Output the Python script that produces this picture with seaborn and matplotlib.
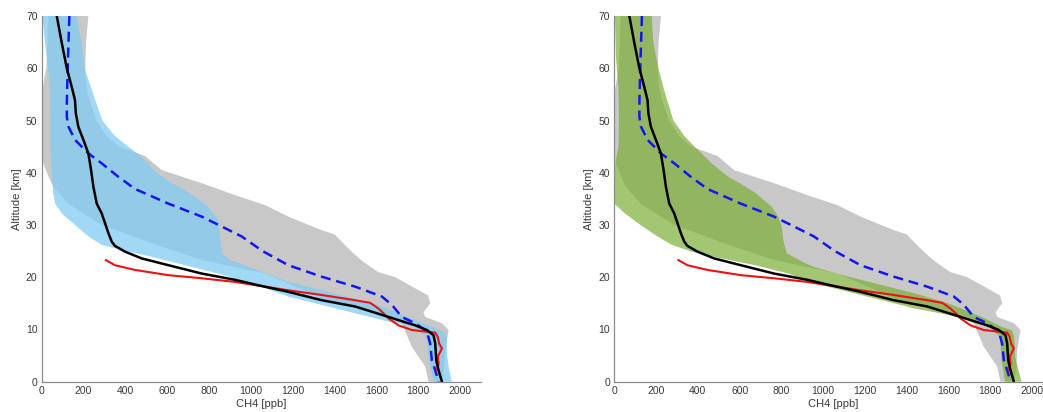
import numpy as np
import pandas as pd
import matplotlib
matplotlib.use("Agg")
import matplotlib.pyplot as plt
import seaborn as sns

sns.set_theme(style="white")
plt.rcParams["font.family"] = ["Liberation Sans", "DejaVu Sans"]

# ---------------- data (CH4 in ppb, altitude in km) ----------------
# grey envelope (reference dataset range) - same in both panels
grey_left_ch4 = [30, 27, 22, 10, 0, 0, 5, 25, 55, 128, 287, 526, 765, 1068, 1340, 1658, 1721, 1769, 1833, 1849]
grey_left_alt = [70, 65, 60, 57.5, 55, 45, 42, 40, 37.3, 34, 30, 26.5, 23.3, 20.7, 16.0, 12.4, 11.2, 6.7, 2.9, 0]
grey_right_ch4 = [223, 212, 208, 212, 228, 262, 310, 370, 440, 494, 574, 765, 925, 1068, 1179, 1339, 1400,
                  1458, 1506, 1536, 1608, 1690, 1780, 1847, 1857, 1825, 1833, 1913, 1945, 1937, 1929, 1925, 1915]
grey_right_alt = [70, 65, 60, 57, 54, 50, 47, 45, 44, 43.2, 40.5, 38, 35.7, 33.8, 31.6, 29.0, 28.2,
                  25.8, 24.0, 23.0, 21.0, 20.0, 18.0, 16.5, 15.0, 13.3, 12.4, 11.2, 9.9, 8.0, 6.1, 3.0, 0]

# blue band (left panel)
blue_left_ch4 = [3, 16, 30, 40, 42, 42, 48, 52, 55, 64, 96, 160, 223, 287, 383, 526, 685, 845, 1004, 1179,
                 1339, 1498, 1658, 1785, 1841, 1849, 1873]
blue_left_alt = [70, 65, 60, 56, 50, 45, 40, 38, 36, 34.1, 32.2, 30, 27.8, 26.2, 25.2, 23.9, 22.3, 20.7, 18.8,
                 16.3, 14.7, 13.1, 11.5, 10.5, 8.6, 4.8, 0]
blue_right_ch4 = [167, 190, 205, 230, 255, 290, 350, 414, 478, 550, 622, 685, 797, 845, 853, 861, 900, 1000,
                  1179, 1339, 1498, 1626, 1705, 1785, 1865, 1921, 1937, 1937, 1945, 1960]
blue_right_alt = [70, 65, 60, 57, 54, 50, 47, 45, 43, 40, 38, 36.7, 33.5, 30.9, 27.8, 24.6, 23.3, 21.8,
                  19.1, 17.5, 15.9, 14.4, 13.1, 11.8, 10.5, 9.6, 8.6, 5.4, 2.9, 0]

# green band (right panel)
green_left_ch4 = [3, 8, 20, 22, 20, 5, 0, 0, 51, 115, 195, 275, 370, 514, 674, 833, 961, 1121, 1280, 1440,
                  1599, 1727, 1800, 1847, 1855, 1871]
green_left_alt = [70, 62, 56, 50, 45, 42, 40, 34.1, 32.2, 30.3, 28.1, 26.2, 24.9, 23.6, 22.3, 20.7, 18.8,
                  17.2, 15.6, 14.0, 12.8, 11.5, 10.3, 8.5, 4.0, 0]
green_right_ch4 = [179, 187, 211, 243, 283, 338, 402, 466, 546, 600, 674, 753, 785, 801, 809, 825, 913, 961,
                   1121, 1280, 1440, 1599, 1679, 1759, 1855, 1903, 1915, 1919, 1935, 1950]
green_right_alt = [70, 64.8, 60, 55.2, 50, 46.9, 44.3, 41.8, 39.2, 38, 36.2, 33.5, 31.6, 29.7, 27.1, 24.6,
                   22.7, 21.9, 20.1, 18.5, 16.9, 15.0, 13.7, 12.4, 10.5, 9.9, 8.6, 4.8, 2.2, 0]

# blue dashed profile
dash_ch4 = [132, 128, 123, 120, 120, 128, 159, 223, 287, 367, 446, 605, 765, 861, 956, 1056, 1179, 1339,
            1498, 1626, 1674, 1721, 1785, 1841, 1857, 1865, 1881, 1897]
dash_alt = [70, 64.8, 58.4, 53.3, 50.7, 48.8, 46.3, 43.7, 41.8, 39.2, 36.9, 34.1, 31.6, 29.7, 27.8, 25.0,
            22.3, 20.1, 18.2, 16.3, 14.7, 12.4, 11.2, 9.6, 7.3, 4.1, 2.2, 0]

# black profile
black_ch4 = [72, 96, 120, 143, 159, 163, 175, 199, 223, 236, 247, 263, 287, 303, 319, 335, 350, 398, 478,
             606, 765, 925, 1020, 1179, 1339, 1498, 1626, 1705, 1785, 1841, 1873, 1881, 1886, 1897, 1913]
black_alt = [70, 64.8, 60, 56.5, 53.9, 51.4, 48.8, 46.3, 43.7, 40.5, 37.3, 34.1, 32.2, 30.3, 28.4, 26.8,
             26.0, 24.9, 23.6, 22.3, 20.7, 19.5, 18.6, 17.2, 15.6, 14.4, 12.8, 11.8, 10.8, 9.9, 8.9, 7.3,
             4.1, 2.2, 0]

# red profile
red_ch4 = [306, 350, 446, 605, 765, 925, 1020, 1179, 1339, 1498, 1570, 1610, 1642, 1658, 1705, 1769, 1833,
           1881, 1893, 1900, 1913, 1905, 1893, 1897, 1890]
red_alt = [23.3, 22.3, 21.4, 20.4, 19.8, 19.1, 18.5, 17.5, 16.6, 15.6, 15.1, 14.0, 12.8, 12.1, 10.8, 9.9,
           9.6, 9.4, 8.6, 7.3, 6.4, 5.7, 4.8, 3.5, 2.2]

x_ticks = list(range(0, 2001, 200))
y_ticks = list(range(0, 71, 10))

# ---------------- figure ----------------
fig = plt.figure(figsize=(10.43, 4.12), dpi=100)
ax1 = fig.add_axes([0.040, 0.0735, 0.4212, 0.8876])
ax2 = fig.add_axes([0.589, 0.0735, 0.4205, 0.8876])

axis_col = "#8c8c8c"
text_col = "#3a3a3a"


def band(ax, lx, ly, rx, ry, color, alpha, z):
    xs = list(lx) + list(rx)[::-1]
    ys = list(ly) + list(ry)[::-1]
    ax.fill(xs, ys, color=color, alpha=alpha, lw=0, zorder=z)


def panel(ax, bl_x, bl_y, br_x, br_y, bcol, balpha):
    band(ax, grey_left_ch4, grey_left_alt, grey_right_ch4, grey_right_alt, "#c8c8c8", 1.0, 1)
    band(ax, bl_x, bl_y, br_x, br_y, bcol, balpha, 2)
    sns.lineplot(x=dash_ch4, y=dash_alt, sort=False, estimator=None, color="#1515f0",
                 linewidth=1.8, linestyle=(0, (4, 2.3)), ax=ax, zorder=3)
    sns.lineplot(x=red_ch4, y=red_alt, sort=False, estimator=None, color="#ee1111",
                 linewidth=1.5, ax=ax, zorder=4)
    sns.lineplot(x=black_ch4, y=black_alt, sort=False, estimator=None, color="black",
                 linewidth=1.8, ax=ax, zorder=5)
    ax.set_xlim(0, 2100)
    ax.set_ylim(0, 70)
    ax.set_xticks(x_ticks)
    ax.set_yticks(y_ticks)
    ax.set_xlabel("CH4 [ppb]", fontsize=8, color=text_col, labelpad=2)
    ax.set_ylabel("Altitude [km]", fontsize=8, color=text_col, labelpad=3)
    for s in ["top", "right"]:
        ax.spines[s].set_visible(False)
    for s in ["left", "bottom"]:
        ax.spines[s].set_color(axis_col)
        ax.spines[s].set_linewidth(0.9)
        ax.spines[s].set_zorder(6)
    ax.tick_params(direction="in", length=3.5, width=0.8, color=axis_col,
                   labelsize=7.5, labelcolor=text_col, pad=3)
    ax.set_facecolor("white")


panel(ax1, blue_left_ch4, blue_left_alt, blue_right_ch4, blue_right_alt, "#80cbf2", 0.75)
panel(ax2, green_left_ch4, green_left_alt, green_right_ch4, green_right_alt, "#77ac30", 0.68)

fig.savefig("out.png", dpi=100)
